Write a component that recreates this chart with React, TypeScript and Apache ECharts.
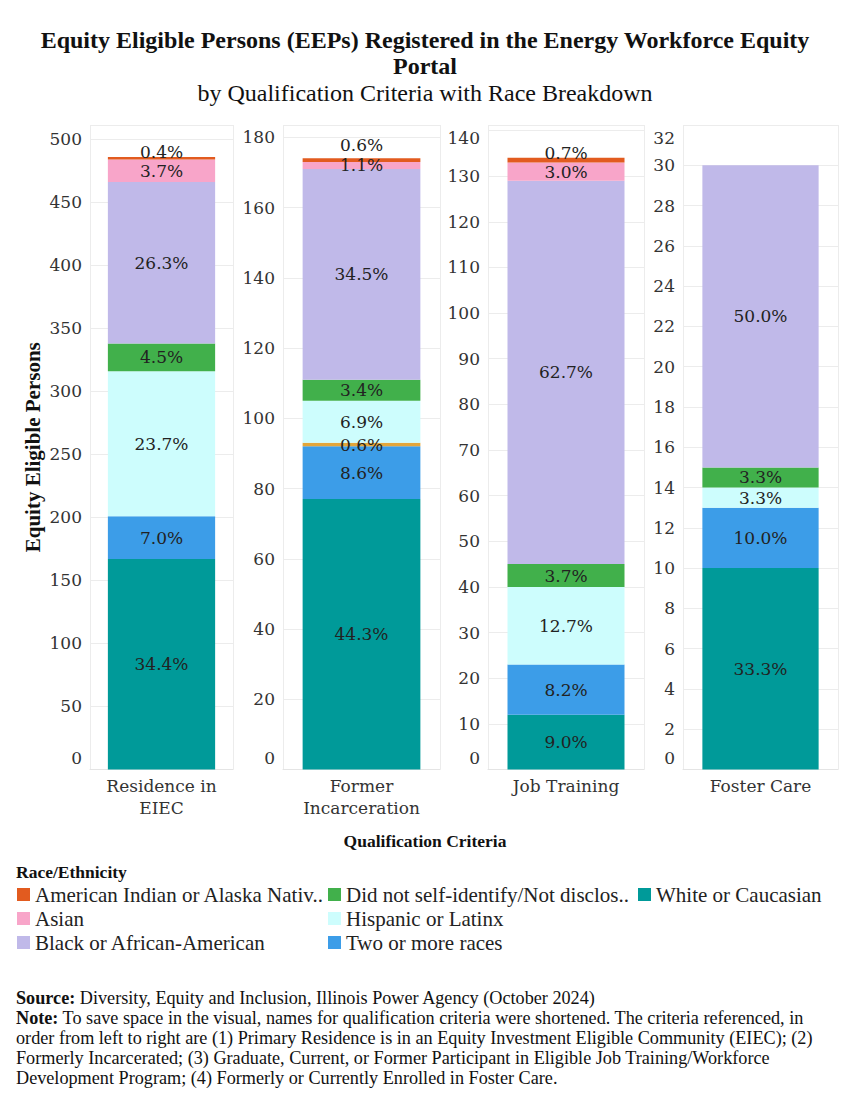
import React, { useEffect, useRef } from 'react';
import * as echarts from 'echarts';

// ---- data ----
const categories = ['Residence in\nEIEC', 'Former\nIncarceration', 'Job Training', 'Foster Care'];
const white = [167, 77, 12, 10];
const twoOrMore = [34, 15, 11, 3];
const nativeHawaiian = [0, 1, 0, 0];
const hispanic = [115, 12, 17, 1];
const didNotDisclose = [22, 6, 5, 1];
const black = [128, 60, 84, 15];
const asian = [18, 2, 4, 0];
const americanIndian = [2, 1, 1, 0];
const yTickStep = [50, 20, 10, 2];
const yMax = [511.3, 183.5, 141.2, 32];

const legendShort: Record<string, string> = {
  'American Indian or Alaska Native': 'American Indian or Alaska Nativ..',
  'Did not self-identify/Not disclosed': 'Did not self-identify/Not disclos..',
};

const seriesDefs = [
  { name: 'White or Caucasian', values: white, color: '#009a99' },
  { name: 'Two or more races', values: twoOrMore, color: '#3c9de8' },
  { name: 'Native Hawaiian or Other Pacific Islander', values: nativeHawaiian, color: '#e3a63a' },
  { name: 'Hispanic or Latinx', values: hispanic, color: '#cdfdfd' },
  { name: 'Did not self-identify/Not disclosed', values: didNotDisclose, color: '#41b04b' },
  { name: 'Black or African-American', values: black, color: '#c0b9e9' },
  { name: 'Asian', values: asian, color: '#f8a5c9' },
  { name: 'American Indian or Alaska Native', values: americanIndian, color: '#e25b1f' },
];

const legendCols = [
  ['American Indian or Alaska Native', 'Asian', 'Black or African-American'],
  ['Did not self-identify/Not disclosed', 'Hispanic or Latinx', 'Two or more races'],
  ['White or Caucasian'],
];

const TFONT = '"Liberation Serif", serif';
const DFONT = '"DejaVu Serif", serif';

const gridLeft = [90, 283, 488, 683];
const gridWidth = [143, 157, 156, 155];
const topLabelOffsets = [-6, -15, -7, 0];

export default function App() {
  const ref = useRef<HTMLDivElement>(null);
  useEffect(() => {
    document.body.style.margin = '0';
    const chart = echarts.init(ref.current!, null, { renderer: 'svg' });
    const totals = categories.map((_, p) => seriesDefs.reduce((s, d) => s + d.values[p], 0));

    const grids = categories.map((_, p) => ({
      left: gridLeft[p], width: gridWidth[p], top: 125, bottom: 330.5,
    }));
    const xAxes = categories.map((c, p) => ({
      type: 'category', gridIndex: p, data: [c],
      axisLine: { show: true, lineStyle: { color: '#e4e4e4' } },
      axisTick: { show: false },
      splitLine: { show: true, lineStyle: { color: '#ececec' } },
      axisLabel: { fontFamily: DFONT, fontSize: 17, color: '#333', lineHeight: 22, margin: 5 },
    }));
    const richBase = { fontFamily: DFONT, fontSize: 17, color: '#333' };
    const yAxes = categories.map((_, p) => ({
      type: 'value', gridIndex: p, min: 0, max: yMax[p], interval: yTickStep[p],
      name: p === 0 ? 'Equity Eligible Persons' : '',
      nameLocation: 'middle', nameGap: 47,
      nameTextStyle: { fontFamily: TFONT, fontWeight: 'bold', fontSize: 21, color: '#111' },
      axisLine: { show: false }, axisTick: { show: false },
      splitLine: { show: true, lineStyle: { color: '#ececec' } },
      axisLabel: {
        fontFamily: DFONT, fontSize: 17, color: '#333', margin: 8,
        showMaxLabel: p === 3,
        formatter: (v: number) => {
          if (Math.abs(v / yTickStep[p] - Math.round(v / yTickStep[p])) > 1e-6) return '';
          if (v === 0) return '{lo|0}';
          if (p === 2 && v === 140) return '{hi|140}';
          if (p === 3 && v === 32) return '{hi2|32}';
          return String(v);
        },
        rich: {
          lo: { ...richBase, padding: [0, 0, 24, 0] },
          hi: { ...richBase, padding: [15, 0, 0, 0] },
          hi2: { ...richBase, padding: [26, 0, 0, 0] },
        },
      },
    }));

    const series: any[] = [];
    categories.forEach((_, p) => {
      seriesDefs.forEach((d, i) => {
        const v = d.values[p];
        series.push({
          type: 'bar', name: d.name, xAxisIndex: p, yAxisIndex: p, stack: 'panel' + p,
          barWidth: '75%', data: [v], itemStyle: { color: d.color },
          label: {
            show: v > 0, position: 'inside',
            formatter: () => ((v / totals[p]) * 100).toFixed(1) + '%',
            fontFamily: DFONT, fontSize: 17, color: '#222',
            offset: i === seriesDefs.length - 1 ? [0, topLabelOffsets[p]] : [0, 0],
          },
        });
      });
    });

    const legends = legendCols.map((names, i) => ({
      orient: 'vertical', left: [17, 328, 638][i], top: 884, padding: 0,
      itemWidth: 13, itemHeight: 13, itemGap: 3, icon: 'rect', selectedMode: false,
      data: names, formatter: (n: string) => legendShort[n] ?? n,
      textStyle: { fontFamily: TFONT, fontSize: 21, color: '#222', lineHeight: 20 },
    }));

    const footRich = {
      b: { fontFamily: TFONT, fontSize: 18.2, fontWeight: 'bold', color: '#111', lineHeight: 20 },
    };
    const footText = [
      '{b|Source:} Diversity, Equity and Inclusion, Illinois Power Agency (October 2024)',
      '{b|Note:} To save space in the visual, names for qualification criteria were shortened. The criteria referenced, in',
      'order from left to right are (1) Primary Residence is in an Equity Investment Eligible Community (EIEC); (2)',
      'Formerly Incarcerated; (3) Graduate, Current, or Former Participant in Eligible Job Training/Workforce',
      'Development Program; (4) Formerly or Currently Enrolled in Foster Care.',
    ].join('\n');

    chart.setOption({
      animation: false,
      backgroundColor: '#ffffff',
      title: [
        {
          text: 'Equity Eligible Persons (EEPs) Registered in the Energy Workforce Equity',
          left: 'center', top: 22,
          textStyle: { fontFamily: TFONT, fontSize: 24, fontWeight: 'bold', color: '#111', lineHeight: 26 },
        },
        {
          text: 'Portal',
          left: 'center', top: 48,
          textStyle: { fontFamily: TFONT, fontSize: 24, fontWeight: 'bold', color: '#111', lineHeight: 26 },
        },
        {
          text: 'by Qualification Criteria with Race Breakdown',
          left: 'center', top: 75,
          textStyle: { fontFamily: TFONT, fontSize: 24, fontWeight: 'normal', color: '#111', lineHeight: 26 },
        },
        {
          text: 'Qualification Criteria', left: 'center', top: 827,
          textStyle: { fontFamily: TFONT, fontSize: 17.5, fontWeight: 'bold', color: '#111' },
        },
        {
          text: 'Race/Ethnicity', left: 11, top: 858,
          textStyle: { fontFamily: TFONT, fontSize: 17.5, fontWeight: 'bold', color: '#111' },
        },
        {
          text: footText, left: 11, top: 983,
          textStyle: { fontFamily: TFONT, fontSize: 18.2, fontWeight: 'normal', color: '#111', lineHeight: 20, rich: footRich },
        },
      ],
      grid: grids,
      xAxis: xAxes,
      yAxis: yAxes,
      legend: legends,
      series,
    });
    return () => chart.dispose();
  }, []);
  return <div ref={ref} style={{ width: 850, height: 1100 }} />;
}
